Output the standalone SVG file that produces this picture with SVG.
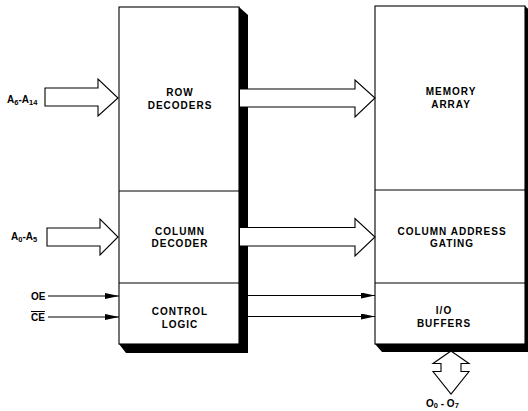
<svg xmlns="http://www.w3.org/2000/svg" width="528" height="411" viewBox="0 0 528 411">
<style>
.box{fill:#fff;stroke:#000;stroke-width:1.1}
.sh{fill:#000}
.ln{fill:none;stroke:#000;stroke-width:1.1}
.ar{fill:#fff;stroke:#000;stroke-width:1.1;stroke-linejoin:miter}
.t{font-family:"Liberation Sans",Arial,sans-serif;font-weight:bold;font-size:10px;letter-spacing:1px;fill:#000;text-anchor:middle}
.l{font-family:"Liberation Sans",Arial,sans-serif;font-weight:bold;font-size:10px;fill:#000}
.s{font-size:7.5px}
</style>
<defs>
<marker id="ah" markerWidth="14" markerHeight="6" refX="14" refY="3" orient="auto" markerUnits="userSpaceOnUse">
<path d="M0,0 L14,3 L0,6 Z" fill="#000"/>
</marker>
</defs>
<rect width="528" height="411" fill="#fff"/>

<g id="left-block">
<polygon class="sh" points="239,7 248,15 248,353 126,353 119,344 239,344"/>
<rect class="box" x="119" y="7" width="120" height="337"/>
<line class="ln" x1="119" y1="191" x2="239" y2="191"/>
<line class="ln" x1="119" y1="283" x2="239" y2="283"/>
</g>
<g id="row-decoders">
<text class="t" x="180" y="96">ROW</text>
<text class="t" x="180" y="108.5">DECODERS</text>
</g>
<g id="column-decoder">
<text class="t" x="180" y="234.5">COLUMN</text>
<text class="t" x="180" y="247">DECODER</text>
</g>
<g id="control-logic">
<text class="t" x="180" y="315">CONTROL</text>
<text class="t" x="180" y="327.5">LOGIC</text>
</g>

<g id="right-block">
<polygon class="sh" points="525,6 534,14 534,352 382,352 375,344 525,344"/>
<rect class="box" x="375" y="6" width="150" height="338"/>
<line class="ln" x1="375" y1="190" x2="525" y2="190"/>
<line class="ln" x1="375" y1="283" x2="525" y2="283"/>
</g>
<g id="memory-array">
<text class="t" x="451" y="95">MEMORY</text>
<text class="t" x="451" y="108">ARRAY</text>
</g>
<g id="column-address-gating">
<text class="t" x="452" y="234.5">COLUMN ADDRESS</text>
<text class="t" x="452" y="247">GATING</text>
</g>
<g id="io-buffers">
<text class="t" x="444" y="313.5">I/O</text>
<text class="t" x="444" y="327">BUFFERS</text>
</g>

<g id="connectors">
<path class="ar" d="M45,88 H98 V79 L118,98 L98,116 V106 H45 Z"/>
<path class="ar" d="M240,89 H355 V80 L375,98 L355,117 V107 H240"/>
<path class="ar" d="M47,228 H100 V219 L118,237 L100,255 V246 H47 Z"/>
<path class="ar" d="M240,227.5 H355 V218.5 L375,237 L355,256 V246 H240"/>
<line class="ln" x1="48" y1="296" x2="119" y2="296" marker-end="url(#ah)"/>
<line class="ln" x1="48" y1="317" x2="119" y2="317" marker-end="url(#ah)"/>
<line class="ln" x1="248" y1="295.5" x2="375" y2="295.5" marker-end="url(#ah)"/>
<line class="ln" x1="248" y1="316.5" x2="375" y2="316.5" marker-end="url(#ah)"/>
<path class="ar" d="M451,351 L469,363.5 H461 V371.5 H469 L451,394 L433,371.5 H441 V363.5 H433 Z"/>
</g>

<g id="labels">
<text class="l" x="7" y="103">A<tspan class="s" dy="1.5">6</tspan><tspan dy="-1.5">-A</tspan><tspan class="s" dy="1.5">14</tspan></text>
<text class="l" x="11" y="240">A<tspan class="s" dy="1.5">0</tspan><tspan dy="-1.5">-A</tspan><tspan class="s" dy="1.5">5</tspan></text>
<text class="l" x="31" y="300">OE</text>
<text class="l" x="31" y="321" style="text-decoration:overline">CE</text>
<text class="l" x="426" y="406.5">O<tspan class="s" dy="1.5">0</tspan><tspan dy="-1.5"> - O</tspan><tspan class="s" dy="1.5">7</tspan></text>
</g>
</svg>
